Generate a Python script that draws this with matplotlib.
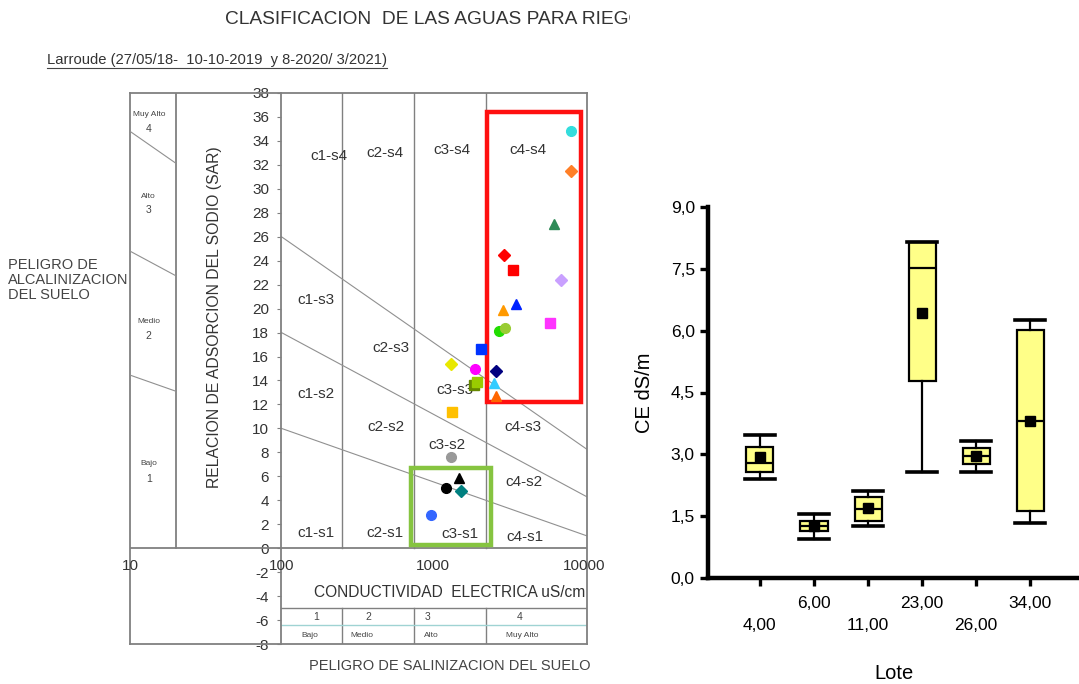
import numpy as np
import matplotlib.pyplot as plt
from matplotlib.patches import Rectangle
from matplotlib.ticker import NullLocator

plt.rcParams['font.family'] = ['Liberation Sans', 'DejaVu Sans']
plt.rcParams['axes.unicode_minus'] = False

# ---- Riverside diagram data (CE uS/cm, SAR) ----
ce_pts = [8200, 8200, 6340, 2965, 3400, 7050, 3555, 2880, 5970, 2750, 3010,
          2090, 1306, 1906, 2625, 1880, 1950, 2546, 2625, 1346, 1306, 1496,
          1228, 1542, 977]
sar_pts = [34.8, 31.5, 27.1, 24.5, 23.2, 22.4, 20.4, 19.9, 18.8, 18.1, 18.4,
           16.6, 15.4, 15.0, 14.8, 13.6, 13.9, 13.8, 12.7, 11.4, 7.6, 5.85,
           5.0, 4.8, 2.8]
pt_colors = ['#33dddd', '#ff7f27', '#2e8b57', '#ff0000', '#ff0000', '#c9a0ff',
             '#0022ff', '#ff9900', '#ff33ff', '#22dd00', '#99cc33', '#0033ff',
             '#e8e800', '#ff00ff', '#000080', '#668800', '#99cc00', '#33ccff',
             '#ff6600', '#ffc000', '#999999', '#000000', '#000000', '#008080',
             '#3366ff']
pt_markers = ['o', 'D', '^', 'D', 's', 'D', '^', '^', 's', 'o', 'o', 's', 'D',
              'o', 'D', 's', 's', '^', '^', 's', 'o', '^', 'o', 'D', 'o']

ec_bounds = [250, 750, 2250]
sar_at_100 = [10, 18, 26]
sar_at_10000 = [1.1, 4.4, 8.4]

zone_labels = ['c1-s4', 'c2-s4', 'c3-s4', 'c4-s4', 'c1-s3', 'c2-s3', 'c3-s3', 'c4-s3',
               'c1-s2', 'c2-s2', 'c3-s2', 'c4-s2', 'c1-s1', 'c2-s1', 'c3-s1', 'c4-s1']
zone_x = [207, 479, 1325, 4207, 168, 532, 1387, 3954,
          168, 493, 1228, 3987, 168, 479, 1496, 4068]
zone_y = [32.7, 33.0, 33.2, 33.2, 20.7, 16.7, 13.2, 10.1,
          12.9, 10.1, 8.6, 5.5, 1.3, 1.3, 1.2, 0.9]

sal_nums = ['1', '2', '3', '4']
sal_names = ['Bajo', 'Medio', 'Alto', 'Muy Alto']
sal_num_x = [170, 375, 923, 3720]
sal_name_x = [153, 341, 980, 3870]

alc_nums = ['4', '3', '2', '1']
alc_names = ['Muy Alto', 'Alto', 'Medio', 'Bajo']
alc_num_y = [35.0, 28.2, 17.7, 5.8]
alc_name_y = [36.2, 29.4, 18.9, 7.1]

sar_ticks = list(range(-8, 39, 2))
ce_ticks = [10, 100, 1000, 10000]

red_box = [2290, 9550, 12.2, 36.4]
green_box = [721, 2400, 0.25, 6.7]

# ---- box plot data (CE dS/m por lote) ----
lotes = ['4,00', '6,00', '11,00', '23,00', '26,00', '34,00']
whis_lo = [2.40, 0.94, 1.26, 2.56, 2.56, 1.34]
q1 = [2.58, 1.15, 1.39, 4.78, 2.77, 1.63]
med = [2.80, 1.25, 1.67, 7.53, 2.95, 3.82]
q3 = [3.19, 1.39, 1.97, 8.14, 3.15, 6.02]
whis_hi = [3.47, 1.55, 2.12, 8.14, 3.33, 6.25]
means = [2.93, 1.27, 1.69, 6.44, 2.96, 3.82]
ce_yticks = [0, 1.5, 3.0, 4.5, 6.0, 7.5, 9.0]
ce_ylabels = ['0,0', '1,5', '3,0', '4,5', '6,0', '7,5', '9,0']

W, H = 1079, 684
fig = plt.figure(figsize=(W / 100, H / 100), dpi=100)

# titles (clipped like the source)
ax0 = fig.add_axes([0, 0, 630 / W, 1])
ax0.axis('off')
ax0.set_xlim(0, 630)
ax0.set_ylim(H, 0)
ax0.text(225, 20, 'CLASIFICACION  DE LAS AGUAS PARA RIEGO', fontsize=13.8,
         color='#333333', va='center', ha='left', clip_on=True)
sub = ax0.text(47, 60, 'Larroude (27/05/18-  10-10-2019  y 8-2020/ 3/2021)',
               fontsize=10.6, color='#333333', va='center', ha='left')
ax0.text(8, 280, 'PELIGRO DE\nALCALINIZACION\nDEL SUELO', fontsize=10.5,
         color='#444444', va='center', ha='left', linespacing=1.1)
ax0.text(450, 666, 'PELIGRO DE SALINIZACION DEL SUELO', fontsize=10.5,
         color='#444444', va='center', ha='center')

# ---- left: diagram ----
gc = '#808080'
ax1 = fig.add_axes([130 / W, 1 - 644 / H, 457 / W, 551 / H])
ax1.set_xscale('log')
ax1.set_xlim(10, 10400)
ax1.set_ylim(-8, 38)
for s in ['top', 'right', 'bottom']:
    ax1.spines[s].set_color(gc)
    ax1.spines[s].set_linewidth(1.3)
ax1.spines['left'].set_position(('data', 100))
ax1.spines['left'].set_color(gc)
ax1.spines['left'].set_linewidth(1.3)
ax1.axvline(10, color=gc, lw=1.3, clip_on=False)
ax1.xaxis.set_major_locator(NullLocator())
ax1.xaxis.set_minor_locator(NullLocator())
ax1.set_yticks(sar_ticks)
ax1.tick_params(axis='y', length=3, width=0.8, color=gc, pad=6,
                labelsize=11, labelcolor='#333333')

ax1.axhline(0, color=gc, lw=1.3)
ax1.plot([20, 20], [0, 38], color=gc, lw=1.3)
for eb in ec_bounds:
    ax1.plot([eb, eb], [0, 38], color=gc, lw=1.0)
    ax1.plot([eb, eb], [-8, -5], color=gc, lw=1.0)
ax1.plot([100, 10400], [-5, -5], color=gc, lw=1.0)
ax1.plot([100, 10400], [-6.45, -6.45], color='#9fd3d3', lw=1.0)

ec_main = np.array([100, 10400])
ec_left = np.array([10, 20])
for lo, hi in zip(sar_at_100, sar_at_10000):
    k = (hi - lo) / 2
    ax1.plot(ec_main, lo + k * (np.log10(ec_main) - 2), color='#909090', lw=0.8)
    ax1.plot(ec_left, lo + k * (np.log10(ec_left) - 2), color='#909090', lw=0.8)

for lab, x, y in zip(zone_labels, zone_x, zone_y):
    ax1.text(x, y, lab, fontsize=11, color='#333333', ha='center', va='center')
for n, nm, xn, xm in zip(sal_nums, sal_names, sal_num_x, sal_name_x):
    ax1.text(xn, -5.75, n, fontsize=7.5, color='#444444', ha='center', va='center')
    ax1.text(xm, -7.3, nm, fontsize=6, color='#444444', ha='center', va='center')
for n, nm, yn, ym in zip(alc_nums, alc_names, alc_num_y, alc_name_y):
    ax1.text(13.3, yn, n, fontsize=7.5, color='#444444', ha='center', va='center')
    ax1.text(13.3, ym, nm, fontsize=6, color='#444444', ha='center', va='center')
for t in ce_ticks:
    ax1.text(t, -1.5, str(t), fontsize=11, color='#333333', ha='center', va='center')
ax1.text(36.4, 19.3, 'RELACION DE ADSORCION DEL SODIO (SAR)', rotation=90,
         fontsize=11.3, color='#333333', ha='center', va='center')
ax1.text(1294, -3.67, 'CONDUCTIVIDAD  ELECTRICA uS/cm', fontsize=11.2,
         color='#333333', ha='center', va='center')

ax1.add_patch(Rectangle((red_box[0], red_box[2]), red_box[1] - red_box[0],
                        red_box[3] - red_box[2], fill=False, ec='#ff1010', lw=3.2, zorder=3))
ax1.add_patch(Rectangle((green_box[0], green_box[2]), green_box[1] - green_box[0],
                        green_box[3] - green_box[2], fill=False, ec='#86c440', lw=3.2, zorder=3))

for x, y, c, m in zip(ce_pts, sar_pts, pt_colors, pt_markers):
    ms = 6 if m == 'D' else 7
    ax1.plot(x, y, marker=m, color=c, ms=ms, mec=c, ls='none', zorder=4)

# ---- right: box plot ----
ax2 = fig.add_axes([708 / W, 1 - 578 / H, (W - 708) / W, (578 - 207) / H])
stats = []
for i in range(len(lotes)):
    stats.append(dict(label=lotes[i], whislo=whis_lo[i], q1=q1[i], med=med[i],
                      q3=q3[i], whishi=whis_hi[i], mean=means[i], fliers=[]))
pos = np.arange(1, len(lotes) + 1)
ax2.bxp(stats, positions=pos, widths=0.5, capwidths=0.55, showmeans=True,
        patch_artist=True, manage_ticks=False,
        boxprops=dict(facecolor='#ffff88', edgecolor='black', linewidth=1.6),
        whiskerprops=dict(color='black', linewidth=1.6),
        capprops=dict(color='black', linewidth=2.6),
        medianprops=dict(color='black', linewidth=1.6),
        meanprops=dict(marker='s', markerfacecolor='black', markeredgecolor='black',
                       markersize=7))
ax2.set_xlim(0.04, 6.9)
ax2.set_ylim(0, 9)
ax2.spines['top'].set_visible(False)
ax2.spines['right'].set_visible(False)
ax2.spines['left'].set_linewidth(3.2)
ax2.spines['bottom'].set_linewidth(3.2)
ax2.set_yticks(ce_yticks)
ax2.set_yticklabels(ce_ylabels)
ax2.set_xticks(pos)
ax2.set_xticklabels(lotes)
ax2.tick_params(length=6, width=2.4, labelsize=12.5, direction='out')
for i, t in enumerate(ax2.xaxis.get_major_ticks()):
    t.set_pad(23 if i % 2 == 0 else 7)
ax2.set_ylabel('CE dS/m', fontsize=14.5, labelpad=12)
ax2.set_xlabel('Lote', fontsize=14.5, labelpad=22)

# underline for subtitle
fig.canvas.draw()
bb = sub.get_window_extent().transformed(fig.transFigure.inverted())
fig.add_artist(plt.Line2D([bb.x0, bb.x1], [bb.y0 - 0.002, bb.y0 - 0.002],
                          color='#444444', lw=0.8))

fig.savefig('out.png', dpi=100)
